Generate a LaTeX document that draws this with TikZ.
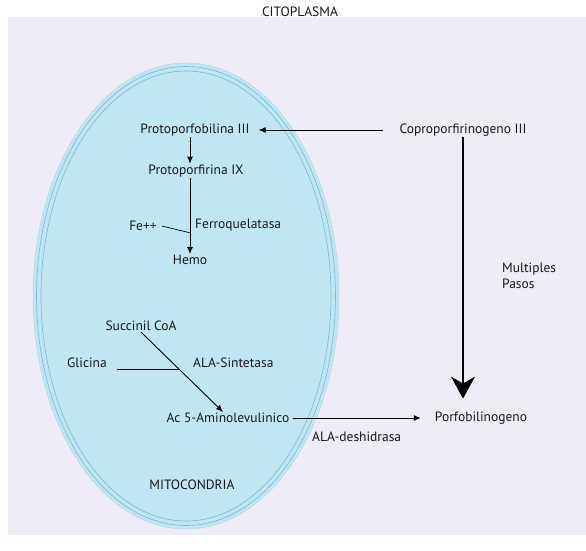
\documentclass[tikz,border=0pt]{standalone}
\usepackage{fontspec}
\setmainfont{PT Sans}
\usetikzlibrary{arrows.meta}

\definecolor{citofondo}{RGB}{237,236,247}
\definecolor{mitofondo}{RGB}{193,230,243}
\definecolor{mitolinea}{RGB}{120,186,214}

\tikzset{
  compuesto/.style={inner sep=1pt, text=black!90, font=\fontsize{13.5}{16}\selectfont},
  rotulo/.style={compuesto, anchor=west},
  paso/.style={-{Latex[length=7pt,width=6pt]}, line width=0.9pt},
  pasogrande/.style={-{Stealth[length=22pt,width=24pt,inset=7pt]}, line width=1.1pt},
  union/.style={line width=0.7pt},
}

\begin{document}
\begin{tikzpicture}[x=1pt,y=-1pt]
    \useasboundingbox (0,0) rectangle (586,550);
    \fill[citofondo] (8,17) rectangle (586,535);

    % mitocondria
    \fill[mitofondo] (186,296) ellipse [x radius=153, y radius=233];
    \draw[mitolinea!60, line width=0.4pt] (186,296) ellipse [x radius=153, y radius=233];
    \draw[mitolinea, line width=0.6pt] (186,296) ellipse [x radius=149.5, y radius=229.5];
    \draw[mitolinea, line width=0.6pt] (186,296) ellipse [x radius=145, y radius=225];

    \node[compuesto] (cito) at (300,12) {CITOPLASMA};
    \node[compuesto] (mito) at (192,485) {MITOCONDRIA};

    % compuestos
    \node[compuesto] (proto) at (195,130) {Protoporfobilina III};
    \node[compuesto] (protoix) at (196,171) {Protoporfirina IX};
    \node[compuesto] (fe) at (143,226) {Fe++};
    \node[compuesto] (hemo) at (190,260) {Hemo};
    \node[compuesto] (copro) at (463,130) {Coproporfirinogeno III};
    \node[compuesto] (succ) at (141,326) {Succinil CoA};
    \node[compuesto] (glic) at (87,363) {Glicina};
    \node[compuesto] (ala) at (228,418) {Ac 5-Aminolevulinico};
    \node[compuesto] (porfo) at (481,418) {Porfobilinogeno};

    % enzimas
    \node[rotulo] (ferro) at (194,225) {Ferroquelatasa};
    \node[rotulo] (sint) at (192,363) {ALA-Sintetasa};
    \node[rotulo] (deshi) at (311,437) {ALA-deshidrasa};
    \node[rotulo, align=left, anchor=north west] (multi) at (501,262) {Multiples\\Pasos};

    % reacciones
    \draw[paso, shorten <=15pt, shorten >=8pt] (copro.west) -- (proto.east);
    \draw[paso] (proto.south -| hemo) -- (protoix.north -| hemo);
    \draw[paso] (protoix.south -| hemo) -- coordinate[pos=0.72] (nudo) (hemo.north);
    \draw[union] ([xshift=4pt]fe.east) -- (nudo);
    \draw[paso] (succ.south) -- coordinate[pos=0.47] (cruce) ([xshift=-5pt]ala.north);
    \path (glic.east) ++(9,0) coordinate (glicfin);
    \draw[union] (glicfin |- cruce) -- (cruce);
    \draw[paso, shorten <=2pt, shorten >=13pt] (ala.east) -- (porfo.west);
    \draw[pasogrande, shorten >=12pt] (copro.south) -- (copro |- porfo.north);
\end{tikzpicture}
\end{document}
